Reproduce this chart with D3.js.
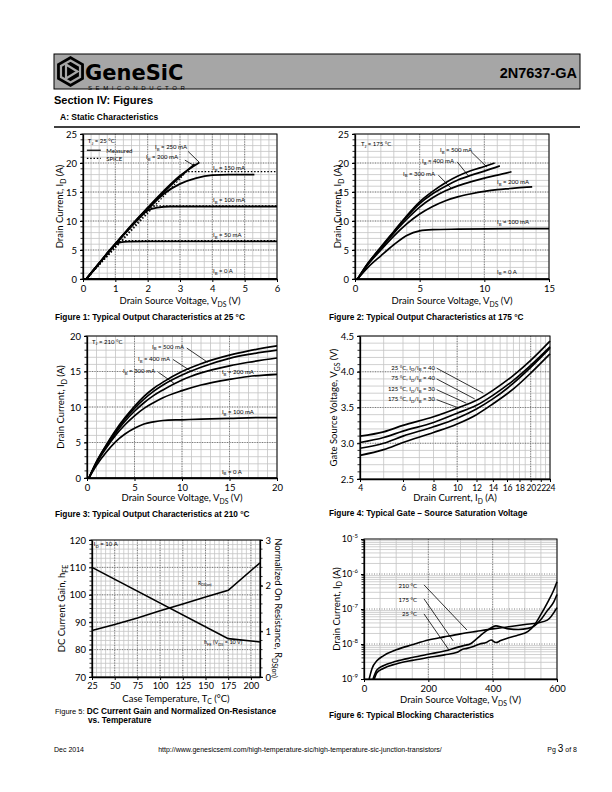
<!DOCTYPE html>
<html><head><meta charset="utf-8">
<script src="https://cdn.jsdelivr.net/npm/d3@7"></script>
<style>body{margin:0;background:#fff}svg{display:block}</style>
</head><body>
<svg id="c" width="612" height="792"></svg>
<script>
// ---------------- DATA ----------------
// Figure 1 (25 °C) measured and SPICE, [V_DS, I_D]
const f1_m0   = [[0,0],[6,0]];
const f1_m50  = [[0.1,0],[0.5,2.7],[1.0,5.9],[1.15,6.3],[1.4,6.45],[2,6.5],[4,6.5],[6,6.5]];
const f1_m100 = [[0.1,0],[0.5,2.7],[1,6],[1.5,9.1],[2,11.8],[2.3,12.3],[2.7,12.5],[4,12.5],[6,12.5]];
const f1_m150 = [[0.1,0],[0.5,2.7],[1,6],[1.5,9.1],[2,12],[2.5,14.7],[3,16.4],[3.5,17.4],[4,17.9],[4.5,18.0],[5.3,18.0]];
const f1_m200 = [[0.1,0],[0.5,2.7],[1,6],[1.5,9.2],[2,12.2],[2.5,15],[3,17.6],[3.45,19.8]];
const f1_m250 = [[0.1,0],[0.5,2.75],[1,6.05],[1.5,9.3],[2,12.3],[2.5,15.2],[3,17.8],[3.6,20.1]];
const f1_s50  = [[0.1,0],[1.15,6.6],[6,6.6]];
const f1_s100 = [[0.1,0],[2.15,12.6],[6,12.6]];
const f1_s150 = [[0.1,0],[3.2,18.5],[6,18.5]];
const f1_xTicks = [0,1,2,3,4,5,6];
const f1_yTicks = [0,5,10,15,20,25];

// Figure 2 (175 °C)
const f2_i0   = [[0,0],[15,0]];
const f2_i100 = [[0.2,0],[1,2.0],[2,4.0],[3,5.9],[4,7.5],[5,8.3],[6,8.5],[8,8.6],[12,8.7],[15,8.7]];
const f2_i200 = [[0.2,0],[1,2.5],[2,5.0],[3,7.4],[4,9.5],[5,11.2],[6,12.5],[7,13.5],[8,14.2],[9,14.7],[10,15.1],[11,15.4],[12,15.6],[13,15.8],[13.7,15.9]];
const f2_i300 = [[0.2,0],[1,2.6],[2,5.3],[3,7.9],[4,10.3],[5,12.4],[6,14.0],[7,15.2],[8,16.1],[9,16.8],[10,17.4],[11,17.9],[12.1,18.5]];
const f2_i400 = [[0.2,0],[1,2.7],[2,5.4],[3,8.1],[4,10.7],[5,13.0],[6,14.7],[7,16.0],[8,17.1],[9,17.9],[10,18.6],[11.2,19.5]];
const f2_i500 = [[0.2,0],[1,2.7],[2,5.5],[3,8.2],[4,10.9],[5,13.3],[6,15.1],[7,16.6],[8,17.8],[9,18.7],[10,19.4],[10.8,20.0]];
const f2_xTicks = [0,5,10,15];
const f2_yTicks = [0,5,10,15,20,25];

// Figure 3 (210 °C)
const f3_i0   = [[0,0],[20,0]];
const f3_i100 = [[0.2,0],[1,1.8],[2,3.6],[3,5.1],[4,6.2],[5,7.0],[6,7.6],[7,7.9],[8,8.1],[10,8.2],[12,8.3],[15,8.4],[18,8.5],[20,8.5]];
const f3_i200 = [[0.2,0],[1,2.1],[2,4.2],[3,6.0],[4,7.5],[5,8.75],[6,9.8],[7,10.6],[8,11.3],[10,12.3],[12,13.1],[15,13.9],[17,14.3],[20,14.6]];
const f3_i300 = [[0.2,0],[1,2.2],[2,4.4],[3,6.3],[4,8.0],[5,9.4],[6,10.6],[7,11.6],[8,12.4],[10,13.8],[12,14.8],[15,15.8],[17,16.3],[20,16.9]];
const f3_i400 = [[0.2,0],[1,2.25],[2,4.5],[3,6.5],[4,8.3],[5,9.8],[6,11.1],[7,12.2],[8,13.1],[10,14.5],[12,15.6],[15,16.85],[17,17.4],[20,18.0]];
const f3_i500 = [[0.2,0],[1,2.3],[2,4.6],[3,6.7],[4,8.5],[5,10.1],[6,11.5],[7,12.6],[8,13.5],[10,15.0],[12,16.1],[15,17.3],[17,17.9],[20,18.6]];
const f3_xTicks = [0,5,10,15,20];
const f3_yTicks = [0,5,10,15,20];

// Figure 4 gate-source saturation voltage
const f4_id    = [4,5,6,8,10,12,14,17,20,24];
const f4_t25   = [3.10,3.16,3.25,3.37,3.49,3.60,3.74,3.95,4.16,4.43];
const f4_t75   = [3.01,3.08,3.17,3.29,3.42,3.53,3.67,3.88,4.09,4.35];
const f4_t125  = [2.93,3.00,3.10,3.23,3.35,3.48,3.62,3.84,4.06,4.33];
const f4_t175  = [2.83,2.91,3.01,3.15,3.27,3.40,3.55,3.76,3.98,4.25];
const f4_xTicks = [4,6,8,10,12,14,16,18,20,22,24];
const f4_yTicks = [2.5,3.0,3.5,4.0,4.5];

// Figure 5 hFE and normalized Rds(on) vs temperature
const f5_temp = [25,175,210];
const f5_hfe  = [110,84,82.8];
const f5_rT   = [25,50,75,100,125,150,175,210];
const f5_ron  = [1.02,1.15,1.29,1.45,1.60,1.75,1.90,2.50];
const f5_xTicks = [25,50,75,100,125,150,175,200];
const f5_yTicks = [70,80,90,100,110,120];
const f5_y2Ticks = [0,1,2,3];

// Figure 6 blocking characteristics [V_DS, I_D]
const f6_t210 = [[16,1e-9],[25,2e-9],[40,3.3e-9],[60,4.6e-9],[100,6.8e-9],[150,9.5e-9],[200,1.3e-8],[250,1.6e-8],[300,1.95e-8],[350,2.3e-8],[400,2.7e-8],[450,3.1e-8],[500,3.6e-8],[540,4e-8],[570,4.8e-8],[600,1.1e-7]];
const f6_t175 = [[28,1e-9],[40,1.8e-9],[60,2.4e-9],[100,3.2e-9],[150,4.1e-9],[200,5.1e-9],[250,6.3e-9],[290,8e-9],[310,9e-9],[330,1.0e-8],[350,1.4e-8],[370,2e-8],[390,2.7e-8],[410,3.3e-8],[430,3.0e-8],[450,2.7e-8],[480,2.6e-8],[510,2.8e-8],[530,3.3e-8],[550,5e-8],[570,9e-8],[590,1.6e-7],[600,2.6e-7]];
const f6_t25  = [[32,1e-9],[40,1.5e-9],[60,2.0e-9],[100,2.7e-9],[150,3.4e-9],[200,4.1e-9],[250,4.9e-9],[290,5.8e-9],[305,7e-9],[320,7.5e-9],[340,8.5e-9],[360,1.0e-8],[380,1.1e-8],[395,1.3e-8],[410,1.1e-8],[425,1.25e-8],[450,1.5e-8],[480,1.8e-8],[510,2.3e-8],[530,3.5e-8],[550,7e-8],[570,1.5e-7],[590,3.5e-7],[600,6e-7]];
const f6_xTicks = [0,200,400,600];
const f6_yTicks = [1e-9,1e-8,1e-7,1e-6,1e-5];

// ---------------- DRAWING ----------------
const FONT = "Lato, 'Open Sans', sans-serif";
const ARIAL = "'Liberation Sans', Arial, sans-serif";
const svg = d3.select('#c');

function rich(parent, x, y, str, o = {}) {
  const fs = o.size || 9;
  const t = parent.append('text').attr('x', x).attr('y', y)
    .attr('font-family', o.font || FONT).attr('font-size', fs)
    .attr('text-anchor', o.anchor || 'start').attr('fill', '#000');
  if (o.weight) t.attr('font-weight', o.weight);
  if (o.rotate != null) t.attr('transform', `rotate(${o.rotate},${x},${y})`);
  const parts = str.split(/(_\{[^}]*\}|\^\{[^}]*\})/).filter(s => s.length);
  let shift = 0;
  parts.forEach(p => {
    if (p.startsWith('_{')) { const s = fs * 0.28; t.append('tspan').attr('dy', s - shift).attr('font-size', fs * 0.72).text(p.slice(2, -1)); shift = s; }
    else if (p.startsWith('^{')) { const s = -fs * 0.4; t.append('tspan').attr('dy', s - shift).attr('font-size', fs * 0.72).text(p.slice(2, -1)); shift = s; }
    else { t.append('tspan').attr('dy', -shift).text(p); shift = 0; }
  });
  return t;
}

function range(a, b, s) { const r = []; for (let v = a; v <= b + 1e-9; v += s) r.push(+v.toFixed(6)); return r; }

function panel(o) {
  const g = svg.append('g');
  const x = (o.xlog ? d3.scaleLog() : d3.scaleLinear()).domain(o.xd).range([o.L, o.R]);
  const y = (o.ylog ? d3.scaleLog() : d3.scaleLinear()).domain(o.yd).range([o.B, o.T]);
  const gm = g.append('g').attr('stroke', '#c4c4c4').attr('stroke-width', 0.8);
  gm.selectAll('line.vx').data(o.xMinor).join('line').attr('class', 'vx')
    .attr('x1', d => x(d)).attr('x2', d => x(d)).attr('y1', o.T).attr('y2', o.B);
  gm.selectAll('line.hy').data(o.yMinor).join('line').attr('class', 'hy')
    .attr('y1', d => y(d)).attr('y2', d => y(d)).attr('x1', o.L).attr('x2', o.R);
  const gM = g.append('g').attr('stroke', '#666').attr('stroke-width', 0.8).attr('stroke-dasharray', '1,1.5');
  gM.selectAll('line.vx').data(o.xMajor).join('line').attr('class', 'vx')
    .attr('x1', d => x(d)).attr('x2', d => x(d)).attr('y1', o.T).attr('y2', o.B);
  gM.selectAll('line.hy').data(o.yMajor).join('line').attr('class', 'hy')
    .attr('y1', d => y(d)).attr('y2', d => y(d)).attr('x1', o.L).attr('x2', o.R);
  const gt = g.append('g').attr('stroke', '#000').attr('stroke-width', 0.8);
  gt.selectAll('line.ty').data(o.yMinor).join('line').attr('class', 'ty')
    .attr('y1', d => y(d)).attr('y2', d => y(d)).attr('x1', o.L - 2.5).attr('x2', o.L);
  g.append('rect').attr('x', o.L).attr('y', o.T).attr('width', o.R - o.L).attr('height', o.B - o.T)
    .attr('fill', 'none').attr('stroke', '#000').attr('stroke-width', 1);
  const fs = o.fs || 9.5;
  const xa = g.append('g').attr('transform', `translate(0,${o.B})`)
    .call(d3.axisBottom(x).tickValues(o.xTicks).tickSize(3).tickSizeOuter(0).tickPadding(3).tickFormat(o.xFmt || (d => d)));
  xa.select('.domain').attr('stroke-width', 1.3);
  xa.selectAll('text').attr('font-family', FONT).attr('font-size', o.xfs || fs).attr('fill', '#000');
  if (o.xls != null) xa.selectAll('text').attr('letter-spacing', o.xls);
  const ya = g.append('g').attr('transform', `translate(${o.L},0)`)
    .call(d3.axisLeft(y).tickValues(o.yTicks).tickSize(3).tickSizeOuter(0).tickPadding(o.yPad || 3).tickFormat(o.yFmt || (d => d)));
  ya.select('.domain').attr('stroke-width', 1.3);
  ya.selectAll('text').attr('font-family', FONT).attr('font-size', fs).attr('fill', '#000');
  return { g, x, y, o, xa, ya };
}

function curve(p, data, opt = {}) {
  const line = d3.line().x(d => p.x(d[0])).y(d => (opt.y || p.y)(d[1])).curve(opt.curve || d3.curveMonotoneX);
  p.g.append('path').datum(data).attr('d', line).attr('fill', 'none').attr('stroke', '#000')
    .attr('stroke-width', opt.w || 1.7).attr('stroke-dasharray', opt.dash || null).attr('stroke-linecap', 'butt');
}
function lbl(p, x, y, str, opt = {}) { return rich(p.g, p.x(x), (opt.y || p.y)(y), str, Object.assign({ size: 6 }, opt)); }
function leader(p, a, b, opt = {}) {
  const yy = opt.y || p.y;
  p.g.append('line').attr('x1', p.x(a[0])).attr('y1', yy(a[1])).attr('x2', p.x(b[0])).attr('y2', yy(b[1]))
    .attr('stroke', '#000').attr('stroke-width', 0.8);
}
function titles(p, xt, yt, xtY, ytX) {
  rich(p.g, (p.o.L + p.o.R) / 2, xtY, xt, { size: 9.5, anchor: 'middle' });
  rich(p.g, ytX, (p.o.T + p.o.B) / 2, yt, { size: 9.5, anchor: 'middle', rotate: -90 });
}
function caption(x, y, boldPart) {
  return svg.append('text').attr('x', x).attr('y', y).attr('font-family', ARIAL).attr('font-size', 8.3)
    .attr('font-weight', 'bold').attr('fill', '#000').text(boldPart);
}

// ---------- Header ----------
svg.append('rect').attr('x', 54).attr('y', 54).attr('width', 526).attr('height', 35)
  .attr('fill', '#a6a6a6').attr('stroke', '#000').attr('stroke-width', 1);
(function logo() {
  const cx = 70.5, cy = 71.5;
  const hex = r => d3.range(6).map(i => { const a = Math.PI / 3 * i - Math.PI / 2; return [cx + r * Math.cos(a), cy + r * Math.sin(a)]; });
  const lg = d3.line().curve(d3.curveLinearClosed);
  svg.append('path').attr('d', lg(hex(15.5))).attr('fill', '#000');
  svg.append('path').attr('d', lg(hex(11))).attr('fill', 'none').attr('stroke', '#a6a6a6').attr('stroke-width', 2.2);
  svg.append('path').attr('d', lg([[cx - 4.5, cy - 7], [cx + 7, cy], [cx - 4.5, cy + 7]])).attr('fill', 'none').attr('stroke', '#a6a6a6').attr('stroke-width', 2.2);
  svg.append('text').attr('x', 85).attr('y', 80).attr('font-family', "'DejaVu Sans', sans-serif").attr('font-weight', 'bold')
    .attr('font-size', 21).attr('fill', '#000').text('GeneSiC');
  svg.append('text').attr('x', 88).attr('y', 89.5).attr('font-family', ARIAL).attr('font-size', 6)
    .attr('letter-spacing', 3.6).attr('fill', '#000').text('SEMICONDUCTOR');
})();
svg.append('text').attr('x', 577).attr('y', 78).attr('text-anchor', 'end').attr('font-family', ARIAL)
  .attr('font-weight', 'bold').attr('font-size', 14.5).attr('fill', '#000').text('2N7637-GA');
svg.append('text').attr('x', 54).attr('y', 104).attr('font-family', ARIAL).attr('font-weight', 'bold')
  .attr('font-size', 11).attr('fill', '#000').text('Section IV: Figures');
svg.append('text').attr('x', 60).attr('y', 120).attr('font-family', ARIAL).attr('font-weight', 'bold')
  .attr('font-size', 8.5).attr('fill', '#000').text('A: Static Characteristics');
svg.append('line').attr('x1', 54).attr('x2', 580).attr('y1', 127).attr('y2', 127).attr('stroke', '#000').attr('stroke-width', 1.5);

// ---------- Figure 1 ----------
const p1 = panel({ L: 83, R: 277, T: 134, B: 279, xd: [0, 6], yd: [0, 25],
  xMinor: range(0, 6, 0.25), xMajor: [1, 2, 3, 4, 5], yMinor: range(0, 25, 1), yMajor: [5, 10, 15, 20],
  xTicks: f1_xTicks, yTicks: f1_yTicks });
[f1_s50, f1_s100, f1_s150].forEach(d => curve(p1, d, { curve: d3.curveLinear, dash: '1.5,1.8', w: 1.2 }));
[f1_m0, f1_m50, f1_m100, f1_m150, f1_m200, f1_m250].forEach(d => curve(p1, d, { w: 1.8 }));
titles(p1, 'Drain Source Voltage, V_{DS} (V)', 'Drain Current, I_{D} (A)', 304, 63);
lbl(p1, 0.15, 23.4, 'T_{J} = 25 °C');
p1.g.append('line').attr('x1', p1.x(0.12)).attr('x2', p1.x(0.55)).attr('y1', p1.y(22.2)).attr('y2', p1.y(22.2)).attr('stroke', '#000').attr('stroke-width', 1.2);
lbl(p1, 0.72, 21.8, 'Measured');
p1.g.append('line').attr('x1', p1.x(0.12)).attr('x2', p1.x(0.55)).attr('y1', p1.y(20.8)).attr('y2', p1.y(20.8)).attr('stroke', '#000').attr('stroke-width', 1.2).attr('stroke-dasharray', '1.5,1.8');
lbl(p1, 0.72, 20.4, 'SPICE');
lbl(p1, 2.23, 22.4, 'I_{B} = 250 mA');
lbl(p1, 1.95, 20.7, 'I_{B} = 200 mA');
lbl(p1, 4.02, 18.8, 'I_{B} = 150 mA');
lbl(p1, 4.02, 13.3, 'I_{B} = 100 mA');
lbl(p1, 4.02, 7.2, 'I_{B} = 50 mA');
lbl(p1, 4.02, 1.0, 'I_{B} = 0 A');
leader(p1, [3.25, 22.0], [3.6, 20.1]);
leader(p1, [3.15, 20.5], [3.42, 19.6]);
caption(55, 320, 'Figure 1: Typical Output Characteristics at 25 °C');

// ---------- Figure 2 ----------
const p2 = panel({ L: 355, R: 549, T: 134, B: 279, xd: [0, 15], yd: [0, 25],
  xMinor: range(0, 15, 1), xMajor: [5, 10], yMinor: range(0, 25, 1), yMajor: [5, 10, 15, 20],
  xTicks: f2_xTicks, yTicks: f2_yTicks });
[f2_i0, f2_i100, f2_i200, f2_i300, f2_i400, f2_i500].forEach(d => curve(p2, d));
titles(p2, 'Drain Source Voltage, V_{DS} (V)', 'Drain Current, I_{D} (A)', 304, 341);
lbl(p2, 0.46, 22.9, 'T_{J} = 175 °C');
lbl(p2, 6.57, 21.9, 'I_{B} = 500 mA');
lbl(p2, 5.18, 20.0, 'I_{B} = 400 mA');
lbl(p2, 3.71, 17.8, 'I_{B} = 300 mA');
lbl(p2, 10.98, 16.4, 'I_{B} = 200 mA');
lbl(p2, 10.98, 9.5, 'I_{B} = 100 mA');
lbl(p2, 10.98, 0.9, 'I_{B} = 0 A');
leader(p2, [9.0, 21.9], [10.2, 19.3]);
leader(p2, [7.9, 20.2], [8.8, 17.7]);
leader(p2, [6.45, 17.9], [7.5, 15.5]);
caption(329, 320, 'Figure 2: Typical Output Characteristics at 175 °C');

// ---------- Figure 3 ----------
const p3 = panel({ L: 87, R: 277, T: 336, B: 478, xd: [0, 20], yd: [0, 20],
  xMinor: range(0, 20, 1), xMajor: [5, 10, 15], yMinor: range(0, 20, 1), yMajor: [5, 10, 15],
  xTicks: f3_xTicks, yTicks: f3_yTicks });
[f3_i0, f3_i100, f3_i200, f3_i300, f3_i400, f3_i500].forEach(d => curve(p3, d));
titles(p3, 'Drain Source Voltage, V_{DS} (V)', 'Drain Current, I_{D} (A)', 501, 64);
lbl(p3, 0.53, 18.9, 'T_{J} = 210 °C');
lbl(p3, 6.84, 18.2, 'I_{B} = 500 mA');
lbl(p3, 5.37, 16.5, 'I_{B} = 400 mA');
lbl(p3, 3.79, 14.8, 'I_{B} = 300 mA');
lbl(p3, 14.2, 14.6, 'I_{B} = 200 mA');
lbl(p3, 14.2, 9.0, 'I_{B} = 100 mA');
lbl(p3, 14.2, 0.6, 'I_{B} = 0 A');
leader(p3, [10.5, 18.3], [12.7, 16.3]);
leader(p3, [9.05, 16.7], [11.0, 15.0]);
leader(p3, [7.5, 14.9], [9.2, 13.3]);
caption(55, 517, 'Figure 3: Typical Output Characteristics at 210 °C');

// ---------- Figure 4 ----------
const p4 = panel({ L: 360, R: 550, T: 336, B: 479, xd: [4, 24], yd: [2.5, 4.5], xlog: true,
  xMinor: range(4, 24, 1), xMajor: [10, 20], yMinor: range(2.5, 4.5, 0.1), yMajor: [3.0, 3.5, 4.0],
  xTicks: f4_xTicks, yTicks: f4_yTicks, yFmt: d3.format('.1f'), fs: 9.5, xfs: 8.6, xls: -0.3 });
[f4_t25, f4_t75, f4_t125, f4_t175].forEach(v => curve(p4, f4_id.map((d, i) => [d, v[i]])));
titles(p4, 'Drain Current, I_{D} (A)', 'Gate Source Voltage, V_{GS} (V)', 501, 337);
lbl(p4, 8.11, 4.03, '25 °C, I_{D}/I_{B} = 40', { anchor: 'end' });
lbl(p4, 8.11, 3.88, '75 °C, I_{D}/I_{B} = 40', { anchor: 'end' });
lbl(p4, 8.11, 3.73, '125 °C, I_{D}/I_{B} = 30', { anchor: 'end' });
lbl(p4, 8.11, 3.59, '175 °C, I_{D}/I_{B} = 30', { anchor: 'end' });
leader(p4, [8.24, 4.05], [12.8, 3.70]);
leader(p4, [8.24, 3.90], [11.8, 3.62]);
leader(p4, [8.24, 3.75], [10.9, 3.56]);
leader(p4, [8.24, 3.61], [10.2, 3.49]);
caption(329, 516, 'Figure 4: Typical Gate – Source Saturation Voltage');

// ---------- Figure 5 ----------
const p5 = panel({ L: 92, R: 260, T: 540, B: 677, xd: [25, 210], yd: [70, 120],
  xMinor: range(25, 210, 5), xMajor: [50, 75, 100, 125, 150, 175, 200], yMinor: range(70, 120, 10 / 6), yMajor: [80, 90, 100, 110],
  xTicks: f5_xTicks, yTicks: f5_yTicks, xfs: 9 });
const y5r = d3.scaleLinear().domain([0, 3]).range([677, 540]);
const ra = p5.g.append('g').attr('transform', 'translate(260,0)')
  .call(d3.axisRight(y5r).tickValues(f5_y2Ticks).tickSize(3).tickSizeOuter(0).tickPadding(2.5).tickFormat(d => d));
ra.select('.domain').attr('stroke-width', 1.3);
ra.selectAll('text').attr('font-family', FONT).attr('font-size', 9.5).attr('fill', '#000');
p5.g.append('g').selectAll('line').data(range(0, 3, 0.2)).join('line')
  .attr('x1', 260).attr('x2', 262.5).attr('y1', d => y5r(d)).attr('y2', d => y5r(d)).attr('stroke', '#000').attr('stroke-width', 0.8);
curve(p5, f5_temp.map((d, i) => [d, f5_hfe[i]]), { curve: d3.curveLinear, w: 1.6 });
curve(p5, f5_rT.map((d, i) => [d, f5_ron[i]]), { curve: d3.curveLinear, w: 1.6, y: y5r });
titles(p5, 'Case Temperature, T_{C} (°C)', 'DC Current Gain, h_{FE}', 701.5, 65);
rich(p5.g, 274.5, 608, 'Normalized On Resistance, R_{DS(on)}', { size: 9.5, anchor: 'middle', rotate: 90 });
lbl(p5, 27, 117.8, 'I_{D} = 10 A');
lbl(p5, 141.7, 103.6, 'R_{DS(on)}', { size: 5 });
lbl(p5, 148.3, 82, 'h_{FE} (V_{DS} = 10 V)', { size: 5.5 });
{
  const t = svg.append('text').attr('x', 55).attr('y', 714).attr('font-family', ARIAL).attr('font-size', 8.3).attr('fill', '#000');
  t.append('tspan').attr('font-size', 7.5).text('Figure 5: ');
  t.append('tspan').attr('font-weight', 'bold').text('DC Current Gain and Normalized On-Resistance');
  svg.append('text').attr('x', 88).attr('y', 723).attr('font-family', ARIAL).attr('font-size', 8.3).attr('font-weight', 'bold').attr('fill', '#000').text('vs. Temperature');
}

// ---------- Figure 6 ----------
const f6minor = [];
[-9, -8, -7, -6].forEach(e => { for (let m = 2; m <= 9; m++) f6minor.push(m * Math.pow(10, e)); });
const p6 = panel({ L: 364, R: 557, T: 539, B: 679, xd: [0, 600], yd: [1e-9, 1e-5], ylog: true,
  xMinor: range(0, 600, 50), xMajor: [200, 400], yMinor: f6minor, yMajor: [1e-8, 1e-7, 1e-6],
  xTicks: f6_xTicks, yTicks: f6_yTicks, yFmt: () => '', yPad: 3, fs: 9 });
p6.ya.selectAll('.tick text').each(function (d) {
  const t = d3.select(this);
  t.append('tspan').text('10');
  t.append('tspan').attr('dy', -4).attr('font-size', 6).text(Math.round(Math.log10(d)));
});
p6.xa.selectAll('text').attr('font-size', 9.5);
[f6_t210, f6_t175, f6_t25].forEach(d => curve(p6, d, { curve: d3.curveMonotoneX, w: 1.6 }));
titles(p6, 'Drain Source Voltage, V_{DS} (V)', 'Drain Current, I_{D} (A)', 703, 339.5);
lbl(p6, 164.8, Math.pow(10, -6.4), '210 °C', { anchor: 'end' });
lbl(p6, 164.8, Math.pow(10, -6.8), '175 °C', { anchor: 'end' });
lbl(p6, 164.8, Math.pow(10, -7.2), '25 °C', { anchor: 'end' });
leader(p6, [186.5, Math.pow(10, -6.31)], [320, Math.pow(10, -7.6)]);
leader(p6, [186.5, Math.pow(10, -6.71)], [277, Math.pow(10, -7.91)]);
leader(p6, [186.5, Math.pow(10, -7.14)], [264, Math.pow(10, -8.17)]);
caption(329, 718, 'Figure 6: Typical Blocking Characteristics');

// ---------- Footer ----------
svg.append('text').attr('x', 54).attr('y', 752).attr('font-family', ARIAL).attr('font-size', 7).attr('fill', '#000').text('Dec 2014');
svg.append('text').attr('x', 300).attr('y', 752).attr('text-anchor', 'middle').attr('font-family', ARIAL).attr('font-size', 7).attr('fill', '#000')
  .text('http://www.genesicsemi.com/high-temperature-sic/high-temperature-sic-junction-transistors/');
{
  const t = svg.append('text').attr('x', 577).attr('y', 752).attr('text-anchor', 'end').attr('font-family', ARIAL).attr('font-size', 7).attr('fill', '#000');
  t.append('tspan').text('Pg ');
  t.append('tspan').attr('font-size', 10).text('3');
  t.append('tspan').text(' of 8');
}
</script>
</body></html>
